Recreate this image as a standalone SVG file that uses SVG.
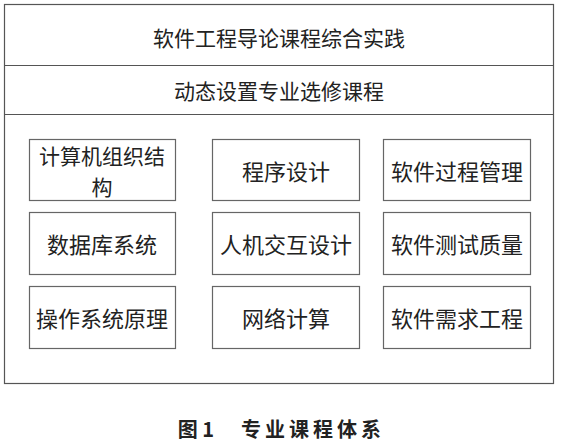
<svg xmlns="http://www.w3.org/2000/svg" width="564" height="448" viewBox="0 0 564 448">
<style>
.f{fill:none;stroke:#555;stroke-width:1.2}
.b{fill:#fff;stroke:#666;stroke-width:1.2}
text{font-family:"Noto Sans CJK SC","Liberation Serif",sans-serif;fill:#222;text-anchor:middle;dominant-baseline:central}
.t{font-size:21px}
.s{font-size:22px}
.c{font-size:20px;font-weight:bold}
</style>
<rect width="564" height="448" fill="#fff"/>
<g id="frame">
<rect class="f" x="4.5" y="4.5" width="549" height="379"/>
<line class="f" x1="4.5" y1="65.5" x2="553.5" y2="65.5"/>
<line class="f" x1="4.5" y1="114.5" x2="553.5" y2="114.5"/>
</g>
<g id="title"><text class="t" x="279" y="37">软件工程导论课程综合实践</text></g>
<g id="elective"><text class="t" x="279" y="90">动态设置专业选修课程</text></g>
<g id="connectors"></g>
<g id="n1"><rect class="b" x="29.5" y="139.5" width="146" height="61"/><text class="t" x="102" y="155">计算机组织结</text><text class="t" x="102" y="186">构</text></g>
<g id="n2"><rect class="b" x="212.5" y="139.5" width="147" height="61"/><text class="s" x="286" y="170">程序设计</text></g>
<g id="n3"><rect class="b" x="383.5" y="139.5" width="147" height="61"/><text class="s" x="457" y="170">软件过程管理</text></g>
<g id="n4"><rect class="b" x="29.5" y="212.5" width="146" height="62"/><text class="s" x="102" y="243">数据库系统</text></g>
<g id="n5"><rect class="b" x="212.5" y="212.5" width="147" height="62"/><text class="s" x="286" y="243">人机交互设计</text></g>
<g id="n6"><rect class="b" x="383.5" y="212.5" width="147" height="62"/><text class="s" x="457" y="243">软件测试质量</text></g>
<g id="n7"><rect class="b" x="29.5" y="286.5" width="146" height="62"/><text class="s" x="102" y="317">操作系统原理</text></g>
<g id="n8"><rect class="b" x="212.5" y="286.5" width="147" height="62"/><text class="s" x="286" y="317">网络计算</text></g>
<g id="n9"><rect class="b" x="383.5" y="286.5" width="147" height="62"/><text class="s" x="457" y="317">软件需求工程</text></g>
<g id="caption"><text class="c" x="196" y="428">图 1</text><text class="c" x="313" y="428" letter-spacing="4">专业课程体系</text></g>
</svg>
